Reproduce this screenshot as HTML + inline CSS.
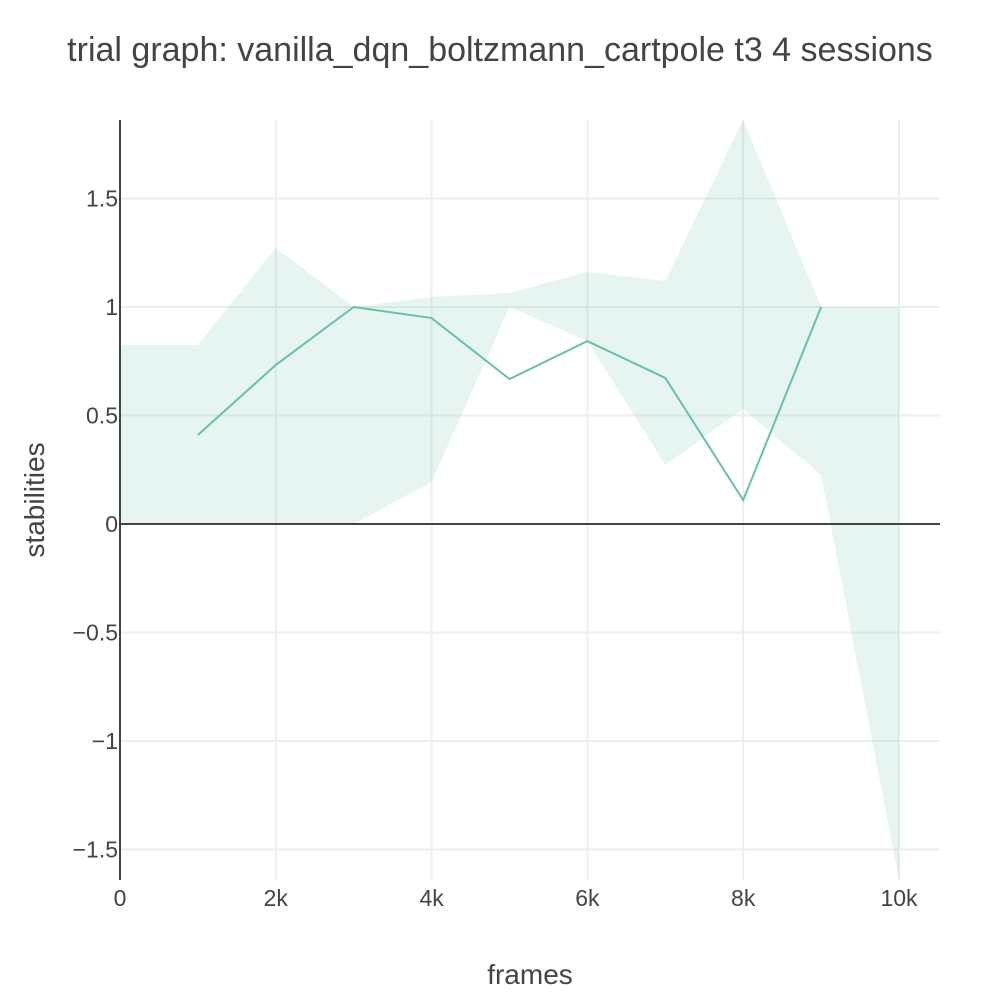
<!DOCTYPE html>
<html><head><meta charset="utf-8"><style>
body{margin:0;background:#fff;font-family:"Liberation Sans",sans-serif;}
svg text{font-family:"Liberation Sans",sans-serif;fill:#444;}
</style></head><body>
<svg id="chart" width="1000" height="1000">
<text x="500" y="61" font-size="34" text-anchor="middle">trial graph: vanilla_dqn_boltzmann_cartpole t3 4 sessions</text>
<g id="grid"></g><g id="band"></g><g id="lines"></g><g id="axes"></g>
<text x="530" y="984" font-size="28" text-anchor="middle">frames</text>
<text transform="translate(44,500) rotate(-90)" font-size="28" text-anchor="middle">stabilities</text>
</svg>
<script>
const bandX=[0,1000,2000,3000,4000,5000,6000,7000,8000,9000,10000];
const bandUpper=[0.825,0.825,1.272,1.0,1.046,1.065,1.161,1.12,1.862,1.0,1.0];
const bandLower=[0,0,0,0,0.194,1.0,0.843,0.272,0.53,0.226,-1.64];
const meanX=[1000,2000,3000,4000,5000,6000,7000,8000,9000];
const meanY=[0.41,0.733,1.0,0.949,0.668,0.843,0.673,0.11,1.0];
const xTicks=[0,2000,4000,6000,8000,10000];
const xTickLabels=["0","2k","4k","6k","8k","10k"];
const yTicks=[-1.5,-1,-0.5,0,0.5,1,1.5];
const yTickLabels=["\u22121.5","\u22121","\u22120.5","0","0.5","1","1.5"];
const X=v=>120+v*0.0779, Y=v=>524-v*217;
const NS="http://www.w3.org/2000/svg";
function mk(p,t,a){const e=document.createElementNS(NS,t);for(const k in a)e.setAttribute(k,a[k]);document.getElementById(p).appendChild(e);return e;}
xTicks.forEach((v,i)=>{
 if(v>0){const g=mk('grid','line',{x1:X(v),x2:X(v),y1:120,y2:880,stroke:'#eee','stroke-width':2});
 
 }
 const t=mk('axes','text',{x:X(v),y:906,'font-size':23,'text-anchor':'middle'});t.textContent=xTickLabels[i];
 
 
});
yTicks.forEach((v,i)=>{
 if(v!==0){const g=mk('grid','line',{x1:120,x2:940,y1:Y(v),y2:Y(v),stroke:'#eee','stroke-width':2});
 
 }
 const t=mk('axes','text',{x:118,y:Y(v)+8,'font-size':23,'text-anchor':'end'});t.textContent=yTickLabels[i];
 
 
});
let pts=bandX.map((x,i)=>X(x)+','+Y(bandUpper[i]));
for(let i=bandX.length-1;i>=0;i--)pts.push(X(bandX[i])+','+Y(bandLower[i]));
const b=mk('band','polygon',{points:pts.join(' '),fill:'rgba(102,194,165,0.16)'});


const l=mk('lines','polyline',{points:meanX.map((x,i)=>X(x)+','+Y(meanY[i])).join(' '),fill:'none',stroke:'#66c2a5','stroke-width':2});


const z=mk('axes','line',{x1:120,x2:940,y1:Y(0),y2:Y(0),stroke:'#444','stroke-width':2});


const ya=mk('axes','line',{x1:120,x2:120,y1:120,y2:880,stroke:'#444','stroke-width':2});


</script>
</body></html>
